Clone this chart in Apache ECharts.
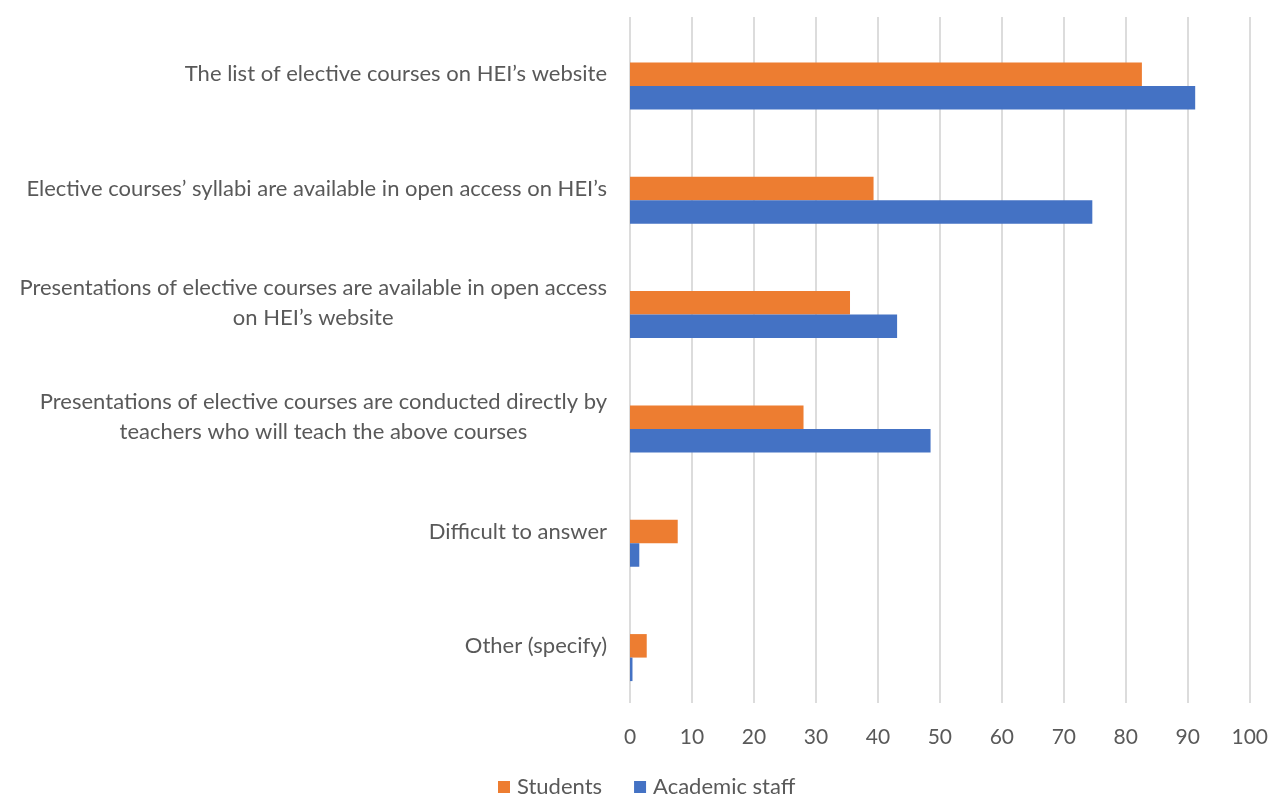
<!DOCTYPE html>
<html>
<head>
<meta charset="utf-8">
<title>Elective course information channels</title>
<script src="https://cdn.jsdelivr.net/npm/echarts@6/dist/echarts.min.js"></script>
<style>
  html, body { margin: 0; padding: 0; background: #ffffff; }
  #chart { width: 1271px; height: 796px; }
</style>
</head>
<body>
<div id="chart"></div>
<script>
// Survey answers (percent of respondents), top to bottom
const categories = [
  "The list of elective courses on HEI\u2019s website",
  "Elective courses\u2019 syllabi are available in open access on HEI\u2019s",
  "Presentations of elective courses are available in open access\non HEI\u2019s website",
  "Presentations of elective courses are conducted directly by\nteachers who will teach the above courses",
  "Difficult to answer",
  "Other (specify)"
];
const students = [82.6, 39.3, 35.5, 28.0, 7.7, 2.7];
const academicStaff = [91.2, 74.6, 43.1, 48.5, 1.5, 0.4];
const xTicks = [0, 10, 20, 30, 40, 50, 60, 70, 80, 90, 100];

const FONT = 'Lato, "Open Sans", sans-serif';
const TEXT = '#595959';

const chart = echarts.init(document.getElementById('chart'), null, { renderer: 'canvas' });

chart.setOption({
  animation: false,
  backgroundColor: '#ffffff',
  grid: { left: 630, right: 21, top: 17, bottom: 93, containLabel: false },
  legend: {
    data: ['Students', 'Academic staff'],
    left: 493,
    top: 771,
    icon: 'rect',
    itemWidth: 12,
    itemHeight: 12,
    itemGap: 32,
    textStyle: { fontFamily: FONT, fontSize: 22, color: TEXT, padding: [0, 0, 0, 2] }
  },
  xAxis: {
    type: 'value',
    min: xTicks[0],
    max: xTicks[xTicks.length - 1],
    interval: xTicks[1] - xTicks[0],
    axisLine: { show: false },
    axisTick: { show: false },
    axisLabel: { margin: 24, fontFamily: FONT, fontSize: 21, color: TEXT },
    splitLine: { show: true, lineStyle: { color: '#dcdcdc', width: 2 } }
  },
  yAxis: {
    type: 'category',
    inverse: true,
    data: categories,
    axisLine: { show: false },
    axisTick: { show: false },
    axisLabel: {
      margin: 23,
      align: 'right',
      fontFamily: FONT,
      fontSize: 22,
      color: TEXT,
      lineHeight: 30,
      // each line is centred within the label block
      formatter: function (v) {
        return v.split('\n').map(function (l) { return '{c|' + l + '}'; }).join('\n');
      },
      rich: {
        c: { align: 'center', fontFamily: FONT, fontSize: 22, color: TEXT, lineHeight: 30 }
      }
    }
  },
  series: [
    {
      // empty spacer series: occupies the top slot of each band
      name: 'spacer',
      type: 'bar',
      barWidth: 23.5,
      barGap: '0%',
      data: categories.map(function () { return null; }),
      silent: true
    },
    {
      name: 'Students',
      type: 'bar',
      barWidth: 23.5,
      barGap: '0%',
      itemStyle: { color: '#ED7D31' },
      data: students
    },
    {
      name: 'Academic staff',
      type: 'bar',
      barWidth: 23.5,
      barGap: '0%',
      itemStyle: { color: '#4472C4' },
      data: academicStaff
    }
  ]
});
</script>
</body>
</html>
